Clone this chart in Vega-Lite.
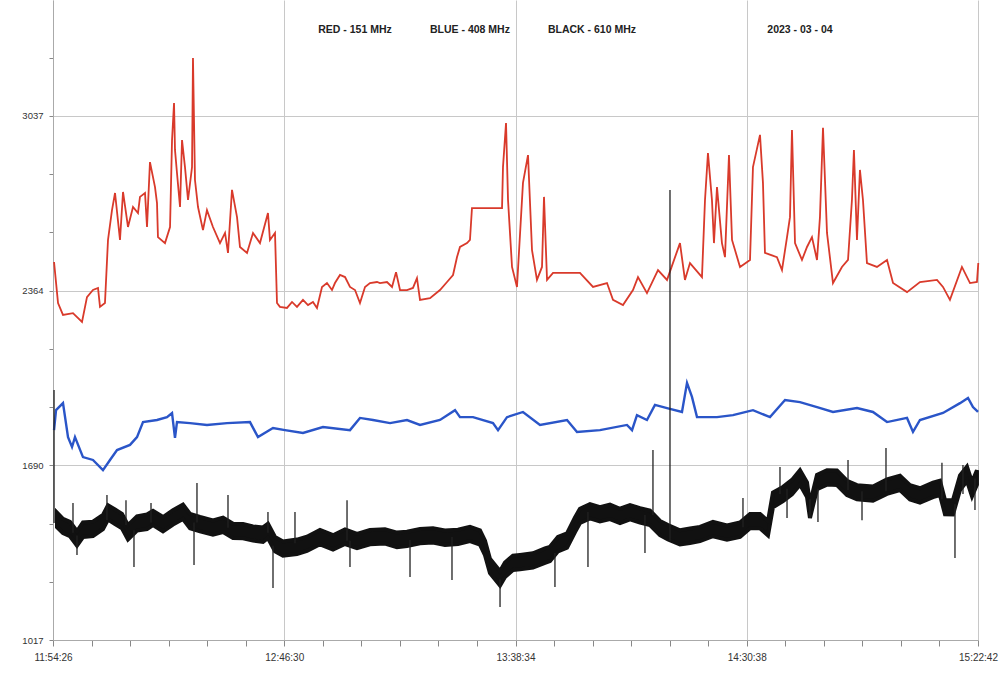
{
  "$schema": "https://vega.github.io/schema/vega-lite/v6.json",
  "width": 925,
  "height": 640,
  "autosize": "none",
  "padding": {"left": 53, "top": 0, "right": 23, "bottom": 34},
  "background": "white",
  "config": {"view": {"stroke": null}},
  "datasets": {
    "red": [
      {"sec":14,"v":2474},{"sec":68,"v":2316},{"sec":135,"v":2270},{"sec":270,"v":2277},{"sec":392,"v":2243},{"sec":459,"v":2339},{"sec":540,"v":2366},{"sec":608,"v":2374},{"sec":635,"v":2301},{"sec":702,"v":2316},{"sec":743,"v":2559},{"sec":797,"v":2674},{"sec":838,"v":2740},{"sec":905,"v":2559},{"sec":946,"v":2744},{"sec":1013,"v":2609},{"sec":1081,"v":2686},{"sec":1148,"v":2663},{"sec":1175,"v":2725},{"sec":1243,"v":2740},{"sec":1270,"v":2609},{"sec":1310,"v":2859},{"sec":1378,"v":2763},{"sec":1405,"v":2701},{"sec":1418,"v":2570},{"sec":1513,"v":2547},{"sec":1581,"v":2609},{"sec":1608,"v":2944},{"sec":1635,"v":3087},{"sec":1648,"v":2906},{"sec":1675,"v":2817},{"sec":1716,"v":2686},{"sec":1743,"v":2944},{"sec":1783,"v":2840},{"sec":1824,"v":2713},{"sec":1878,"v":2840},{"sec":1891,"v":3260},{"sec":1918,"v":2790},{"sec":1959,"v":2686},{"sec":2026,"v":2597},{"sec":2080,"v":2674},{"sec":2161,"v":2609},{"sec":2256,"v":2547},{"sec":2324,"v":2586},{"sec":2364,"v":2509},{"sec":2418,"v":2752},{"sec":2486,"v":2647},{"sec":2526,"v":2532},{"sec":2621,"v":2509},{"sec":2702,"v":2586},{"sec":2796,"v":2547},{"sec":2904,"v":2663},{"sec":2931,"v":2559},{"sec":2999,"v":2586},{"sec":3026,"v":2316},{"sec":3066,"v":2301},{"sec":3161,"v":2297},{"sec":3229,"v":2320},{"sec":3296,"v":2301},{"sec":3377,"v":2328},{"sec":3445,"v":2308},{"sec":3512,"v":2320},{"sec":3566,"v":2297},{"sec":3634,"v":2378},{"sec":3701,"v":2393},{"sec":3769,"v":2366},{"sec":3809,"v":2393},{"sec":3877,"v":2424},{"sec":3945,"v":2416},{"sec":4012,"v":2378},{"sec":4080,"v":2366},{"sec":4147,"v":2316},{"sec":4215,"v":2378},{"sec":4282,"v":2393},{"sec":4377,"v":2397},{"sec":4417,"v":2393},{"sec":4512,"v":2397},{"sec":4580,"v":2378},{"sec":4634,"v":2435},{"sec":4688,"v":2366},{"sec":4782,"v":2366},{"sec":4863,"v":2374},{"sec":4917,"v":2412},{"sec":4958,"v":2328},{"sec":5093,"v":2335},{"sec":5228,"v":2366},{"sec":5323,"v":2397},{"sec":5404,"v":2424},{"sec":5458,"v":2493},{"sec":5498,"v":2532},{"sec":5593,"v":2547},{"sec":5633,"v":2559},{"sec":5660,"v":2682},{"sec":6066,"v":2682},{"sec":6079,"v":2840},{"sec":6120,"v":3010},{"sec":6147,"v":2713},{"sec":6201,"v":2455},{"sec":6268,"v":2378},{"sec":6349,"v":2779},{"sec":6417,"v":2886},{"sec":6471,"v":2520},{"sec":6538,"v":2405},{"sec":6606,"v":2455},{"sec":6633,"v":2725},{"sec":6674,"v":2405},{"sec":6755,"v":2432},{"sec":6944,"v":2432},{"sec":7119,"v":2432},{"sec":7295,"v":2378},{"sec":7484,"v":2393},{"sec":7565,"v":2328},{"sec":7700,"v":2308},{"sec":7835,"v":2366},{"sec":7903,"v":2416},{"sec":8024,"v":2354},{"sec":8173,"v":2443},{"sec":8295,"v":2405},{"sec":8470,"v":2547},{"sec":8537,"v":2405},{"sec":8605,"v":2470},{"sec":8767,"v":2416},{"sec":8808,"v":2713},{"sec":8848,"v":2894},{"sec":8902,"v":2713},{"sec":8929,"v":2547},{"sec":8970,"v":2763},{"sec":9037,"v":2547},{"sec":9078,"v":2493},{"sec":9132,"v":2886},{"sec":9173,"v":2559},{"sec":9281,"v":2455},{"sec":9416,"v":2482},{"sec":9456,"v":2840},{"sec":9551,"v":2964},{"sec":9591,"v":2779},{"sec":9618,"v":2509},{"sec":9780,"v":2493},{"sec":9848,"v":2443},{"sec":9916,"v":2570},{"sec":9956,"v":2647},{"sec":9983,"v":2983},{"sec":10024,"v":2547},{"sec":10118,"v":2482},{"sec":10186,"v":2532},{"sec":10253,"v":2570},{"sec":10321,"v":2482},{"sec":10361,"v":2647},{"sec":10402,"v":2991},{"sec":10456,"v":2586},{"sec":10537,"v":2393},{"sec":10658,"v":2455},{"sec":10740,"v":2482},{"sec":10793,"v":2713},{"sec":10820,"v":2906},{"sec":10861,"v":2559},{"sec":10901,"v":2829},{"sec":10942,"v":2713},{"sec":10996,"v":2470},{"sec":11131,"v":2455},{"sec":11267,"v":2482},{"sec":11348,"v":2393},{"sec":11537,"v":2358},{"sec":11712,"v":2397},{"sec":11942,"v":2405},{"sec":12023,"v":2378},{"sec":12117,"v":2328},{"sec":12279,"v":2455},{"sec":12388,"v":2393},{"sec":12482,"v":2397},{"sec":12500,"v":2470}
    ],
    "blue": [
      {"sec":14,"v":1826},{"sec":41,"v":1903},{"sec":135,"v":1930},{"sec":203,"v":1799},{"sec":257,"v":1761},{"sec":297,"v":1799},{"sec":405,"v":1722},{"sec":540,"v":1711},{"sec":675,"v":1672},{"sec":770,"v":1711},{"sec":865,"v":1749},{"sec":1040,"v":1769},{"sec":1135,"v":1799},{"sec":1216,"v":1857},{"sec":1405,"v":1865},{"sec":1540,"v":1876},{"sec":1608,"v":1892},{"sec":1648,"v":1796},{"sec":1675,"v":1857},{"sec":1851,"v":1853},{"sec":2080,"v":1846},{"sec":2351,"v":1853},{"sec":2661,"v":1857},{"sec":2769,"v":1799},{"sec":2972,"v":1834},{"sec":3134,"v":1826},{"sec":3377,"v":1815},{"sec":3647,"v":1838},{"sec":4012,"v":1826},{"sec":4147,"v":1873},{"sec":4323,"v":1865},{"sec":4553,"v":1853},{"sec":4782,"v":1865},{"sec":4958,"v":1846},{"sec":5228,"v":1865},{"sec":5431,"v":1903},{"sec":5498,"v":1876},{"sec":5674,"v":1876},{"sec":5944,"v":1853},{"sec":6012,"v":1826},{"sec":6133,"v":1876},{"sec":6349,"v":1896},{"sec":6579,"v":1846},{"sec":6944,"v":1865},{"sec":7079,"v":1819},{"sec":7389,"v":1826},{"sec":7754,"v":1846},{"sec":7822,"v":1826},{"sec":7889,"v":1884},{"sec":8024,"v":1865},{"sec":8132,"v":1923},{"sec":8295,"v":1911},{"sec":8497,"v":1896},{"sec":8565,"v":2008},{"sec":8632,"v":1954},{"sec":8700,"v":1876},{"sec":8970,"v":1876},{"sec":9186,"v":1884},{"sec":9456,"v":1903},{"sec":9686,"v":1876},{"sec":9889,"v":1942},{"sec":10091,"v":1934},{"sec":10321,"v":1915},{"sec":10537,"v":1896},{"sec":10861,"v":1911},{"sec":11077,"v":1896},{"sec":11267,"v":1857},{"sec":11537,"v":1873},{"sec":11618,"v":1819},{"sec":11712,"v":1865},{"sec":12023,"v":1892},{"sec":12253,"v":1930},{"sec":12361,"v":1950},{"sec":12428,"v":1915},{"sec":12496,"v":1896}
    ],
    "black": [
      {"sec":54,"lo":1452,"hi":1508},{"sec":135,"lo":1429,"hi":1484},{"sec":230,"lo":1417,"hi":1472},{"sec":324,"lo":1381,"hi":1436},{"sec":405,"lo":1414,"hi":1470},{"sec":540,"lo":1418,"hi":1473},{"sec":675,"lo":1444,"hi":1499},{"sec":743,"lo":1481,"hi":1536},{"sec":838,"lo":1464,"hi":1520},{"sec":932,"lo":1448,"hi":1503},{"sec":1013,"lo":1405,"hi":1460},{"sec":1135,"lo":1439,"hi":1494},{"sec":1270,"lo":1445,"hi":1501},{"sec":1351,"lo":1460,"hi":1515},{"sec":1486,"lo":1436,"hi":1491},{"sec":1621,"lo":1462,"hi":1517},{"sec":1756,"lo":1483,"hi":1539},{"sec":1851,"lo":1448,"hi":1503},{"sec":1986,"lo":1436,"hi":1491},{"sec":2161,"lo":1423,"hi":1478},{"sec":2297,"lo":1433,"hi":1489},{"sec":2432,"lo":1410,"hi":1465},{"sec":2567,"lo":1409,"hi":1464},{"sec":2702,"lo":1400,"hi":1455},{"sec":2837,"lo":1395,"hi":1451},{"sec":2904,"lo":1410,"hi":1465},{"sec":2999,"lo":1359,"hi":1414},{"sec":3107,"lo":1342,"hi":1397},{"sec":3296,"lo":1348,"hi":1404},{"sec":3431,"lo":1360,"hi":1415},{"sec":3607,"lo":1386,"hi":1441},{"sec":3783,"lo":1366,"hi":1421},{"sec":3945,"lo":1387,"hi":1443},{"sec":4107,"lo":1371,"hi":1426},{"sec":4282,"lo":1386,"hi":1441},{"sec":4485,"lo":1389,"hi":1444},{"sec":4647,"lo":1375,"hi":1431},{"sec":4782,"lo":1379,"hi":1434},{"sec":4958,"lo":1390,"hi":1445},{"sec":5133,"lo":1393,"hi":1448},{"sec":5295,"lo":1383,"hi":1439},{"sec":5471,"lo":1387,"hi":1442},{"sec":5633,"lo":1398,"hi":1453},{"sec":5768,"lo":1385,"hi":1440},{"sec":5836,"lo":1344,"hi":1400},{"sec":5903,"lo":1275,"hi":1330},{"sec":5971,"lo":1251,"hi":1306},{"sec":6039,"lo":1227,"hi":1282},{"sec":6106,"lo":1260,"hi":1316},{"sec":6214,"lo":1287,"hi":1342},{"sec":6309,"lo":1290,"hi":1345},{"sec":6484,"lo":1296,"hi":1351},{"sec":6646,"lo":1314,"hi":1370},{"sec":6714,"lo":1321,"hi":1376},{"sec":6822,"lo":1359,"hi":1414},{"sec":6944,"lo":1373,"hi":1428},{"sec":7052,"lo":1433,"hi":1489},{"sec":7119,"lo":1468,"hi":1523},{"sec":7254,"lo":1486,"hi":1541},{"sec":7389,"lo":1474,"hi":1529},{"sec":7524,"lo":1483,"hi":1539},{"sec":7660,"lo":1468,"hi":1523},{"sec":7795,"lo":1482,"hi":1537},{"sec":7930,"lo":1470,"hi":1525},{"sec":8065,"lo":1460,"hi":1516},{"sec":8200,"lo":1421,"hi":1476},{"sec":8308,"lo":1405,"hi":1460},{"sec":8470,"lo":1385,"hi":1440},{"sec":8605,"lo":1391,"hi":1447},{"sec":8740,"lo":1398,"hi":1453},{"sec":8916,"lo":1417,"hi":1472},{"sec":9105,"lo":1404,"hi":1459},{"sec":9281,"lo":1414,"hi":1470},{"sec":9416,"lo":1448,"hi":1503},{"sec":9551,"lo":1448,"hi":1503},{"sec":9659,"lo":1420,"hi":1475},{"sec":9726,"lo":1529,"hi":1585},{"sec":9862,"lo":1552,"hi":1607},{"sec":9983,"lo":1579,"hi":1634},{"sec":10091,"lo":1616,"hi":1671},{"sec":10186,"lo":1568,"hi":1624},{"sec":10226,"lo":1487,"hi":1542},{"sec":10321,"lo":1598,"hi":1653},{"sec":10456,"lo":1616,"hi":1671},{"sec":10591,"lo":1614,"hi":1670},{"sec":10726,"lo":1576,"hi":1631},{"sec":10861,"lo":1559,"hi":1614},{"sec":11077,"lo":1554,"hi":1609},{"sec":11266,"lo":1580,"hi":1636},{"sec":11442,"lo":1595,"hi":1650},{"sec":11577,"lo":1559,"hi":1614},{"sec":11712,"lo":1547,"hi":1602},{"sec":11888,"lo":1568,"hi":1624},{"sec":11982,"lo":1576,"hi":1631},{"sec":12050,"lo":1502,"hi":1557},{"sec":12158,"lo":1501,"hi":1556},{"sec":12253,"lo":1595,"hi":1651},{"sec":12347,"lo":1630,"hi":1685},{"sec":12415,"lo":1571,"hi":1626},{"sec":12482,"lo":1616,"hi":1671}
    ],
    "spikes": [
      {"sec":14,"lo":1468,"hi":1981},{"sec":270,"lo":1430,"hi":1545},{"sec":324,"lo":1345,"hi":1420},{"sec":729,"lo":1480,"hi":1576},{"sec":986,"lo":1460,"hi":1556},{"sec":1094,"lo":1298,"hi":1440},{"sec":1324,"lo":1470,"hi":1545},{"sec":1905,"lo":1306,"hi":1470},{"sec":1945,"lo":1470,"hi":1622},{"sec":2364,"lo":1450,"hi":1576},{"sec":2904,"lo":1430,"hi":1510},{"sec":2972,"lo":1217,"hi":1380},{"sec":3269,"lo":1390,"hi":1510},{"sec":3972,"lo":1400,"hi":1556},{"sec":4012,"lo":1298,"hi":1400},{"sec":4823,"lo":1260,"hi":1402},{"sec":5390,"lo":1248,"hi":1414},{"sec":6039,"lo":1144,"hi":1250},{"sec":6781,"lo":1221,"hi":1352},{"sec":7227,"lo":1298,"hi":1510},{"sec":7997,"lo":1352,"hi":1499},{"sec":8105,"lo":1499,"hi":1749},{"sec":8335,"lo":1400,"hi":2752},{"sec":9321,"lo":1452,"hi":1564},{"sec":9821,"lo":1580,"hi":1684},{"sec":9916,"lo":1487,"hi":1600},{"sec":10226,"lo":1487,"hi":1560},{"sec":10334,"lo":1472,"hi":1600},{"sec":10740,"lo":1595,"hi":1711},{"sec":10929,"lo":1479,"hi":1590},{"sec":11253,"lo":1590,"hi":1757},{"sec":12009,"lo":1560,"hi":1700},{"sec":12185,"lo":1333,"hi":1540},{"sec":12293,"lo":1580,"hi":1692},{"sec":12455,"lo":1518,"hi":1640}
    ]
  },
  "encoding": {
    "x": {
      "field": "sec",
      "type": "quantitative",
      "scale": {"domain": [0, 12496], "nice": false, "zero": false},
      "axis": {
        "title": null,
        "values": [0, 520.67, 1041.33, 1562, 2082.67, 2603.33, 3124, 3644.67, 4165.33, 4686, 5206.67, 5727.33, 6248, 6768.67, 7289.33, 7810, 8330.67, 8851.33, 9372, 9892.67, 10413.33, 10934, 11454.67, 11975.33, 12496],
        "labelExpr": "datum.value % 3124 == 0 ? timeFormat(datetime(2023, 2, 4, 11, 54, 26 + datum.value), '%H:%M:%S') : ''",
        "labelOverlap": false,
        "labelFlush": false,
        "labelFont": "Liberation Sans",
        "labelFontSize": 10,
        "labelColor": "#333",
        "labelPadding": 6,
        "tickSize": 6,
        "tickColor": "#888",
        "domainColor": "#aaa",
        "grid": true,
        "gridColor": "#c8c8c8",
        "gridOpacity": {"condition": {"test": "datum.value % 3124 == 0", "value": 1}, "value": 0}
      }
    }
  },
  "layer": [
    {
      "data": {"name": "blue"},
      "mark": {"type": "line", "color": "#2a55c8", "strokeWidth": 2.4},
      "encoding": {
        "y": {
          "field": "v",
          "type": "quantitative",
          "scale": {"domain": [1017, 3484], "nice": false, "zero": false},
          "axis": {
            "title": null,
            "values": [1017, 1129, 1241, 1354, 1466, 1578, 1690, 1802, 1915, 2027, 2139, 2251, 2364, 2476, 2588, 2700, 2813, 2925, 3037, 3149, 3261, 3374],
            "labelExpr": "(datum.value == 1017 || datum.value == 1690 || datum.value == 2364 || datum.value == 3037) ? format(datum.value, 'd') : ''",
            "labelOverlap": false,
            "labelFont": "Liberation Sans",
            "labelFontSize": 9.5,
            "labelColor": "#333",
            "labelPadding": 6,
            "tickSize": 4,
            "tickColor": "#888",
            "domainColor": "#aaa",
            "grid": true,
            "gridColor": "#c8c8c8",
            "gridOpacity": {"condition": {"test": "datum.value == 1690 || datum.value == 2364 || datum.value == 3037", "value": 1}, "value": 0}
          }
        }
      }
    },
    {
      "data": {"name": "red"},
      "mark": {"type": "line", "color": "#d93a2b", "strokeWidth": 1.8},
      "encoding": {
        "y": {"field": "v", "type": "quantitative", "axis": {"title": null}}
      }
    },
    {
      "data": {"name": "black"},
      "mark": {"type": "area", "color": "#111111", "stroke": "#111111", "strokeWidth": 4, "strokeJoin": "miter"},
      "encoding": {
        "y": {"field": "hi", "type": "quantitative", "axis": {"title": null}},
        "y2": {"field": "lo"}
      }
    },
    {
      "data": {"name": "spikes"},
      "mark": {"type": "rule", "color": "#222222", "strokeWidth": 1.3},
      "encoding": {
        "y": {"field": "hi", "type": "quantitative", "axis": {"title": null}},
        "y2": {"field": "lo"}
      }
    },
    {
      "data": {"values": [{"label": "RED - 151 MHz", "at": 4080}, {"label": "BLUE - 408 MHz", "at": 5633}, {"label": "BLACK - 610 MHz", "at": 7281}, {"label": "2023 - 03 - 04", "at": 10091}]},
      "mark": {"type": "text", "font": "Liberation Sans", "fontSize": 10.5, "fontWeight": "bold", "color": "#222", "align": "center", "baseline": "middle"},
      "encoding": {
        "x": {"field": "at", "type": "quantitative"},
        "y": {"datum": 3368, "type": "quantitative", "axis": {"title": null}},
        "text": {"field": "label"}
      }
    }
  ]
}
